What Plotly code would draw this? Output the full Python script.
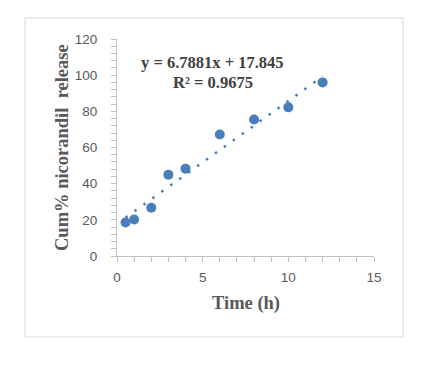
import plotly.graph_objects as go

time_h = [0.5, 1, 2, 3, 4, 6, 8, 10, 12]
cum_release = [18.5, 20.2, 26.7, 45.0, 48.3, 67.2, 75.5, 82.2, 96.0]
slope = 6.7881
intercept = 17.845
r2 = 0.9675

blue = "#4a7ebb"
grey_text = "#595959"
axis_grey = "#bfbfbf"

trend_x = [min(time_h), max(time_h)]
trend_y = [slope * v + intercept for v in trend_x]

fig = go.Figure()
fig.add_trace(go.Scatter(x=trend_x, y=trend_y, mode="lines",
                         line=dict(color=blue, width=2.5, dash="2.5px,8.5px"),
                         hoverinfo="skip", showlegend=False))
fig.add_trace(go.Scatter(x=time_h, y=cum_release, mode="markers",
                         marker=dict(color=blue, size=10),
                         showlegend=False))

OFF = 8  # page body margin
W, H = 427 - 2 * OFF, 382 - 2 * OFF
L = 117 - OFF
T = 39 - OFF
R = W - (374 - OFF)
B = H - (256 - OFF)
pw = W - L - R
ph = H - T - B

def px(xp):
    return (xp - OFF - L) / pw

def py(yp):
    return (H - B - (yp - OFF)) / ph

fig.update_layout(
    width=W, height=H,
    margin=dict(l=L, r=R, t=T, b=B),
    paper_bgcolor="white", plot_bgcolor="white",
    showlegend=False,
    xaxis=dict(range=[0, 15], dtick=5, tick0=0, showgrid=False, zeroline=False,
               showline=True, linecolor=axis_grey, linewidth=1,
               ticks="outside", ticklen=5, tickcolor=axis_grey,
               tickfont=dict(family="Liberation Sans", size=13.5, color=grey_text),
               ticklabelstandoff=4,
               minor=dict(dtick=1, ticks="outside", ticklen=5, tickcolor=axis_grey, showgrid=False)),
    yaxis=dict(range=[0, 120], dtick=20, tick0=0, showgrid=False, zeroline=False,
               showline=True, linecolor=axis_grey, linewidth=1,
               ticks="outside", ticklen=5, tickcolor=axis_grey,
               tickfont=dict(family="Liberation Sans", size=13.5, color=grey_text),
               ticklabelstandoff=11,
               minor=dict(dtick=4, ticks="outside", ticklen=5, tickcolor=axis_grey, showgrid=False)),
    shapes=[dict(type="rect", xref="paper", yref="paper",
                 x0=px(25), x1=px(403), y0=py(337), y1=py(18),
                 line=dict(color="#d9d9d9", width=1), layer="below")],
    annotations=[
        dict(text="<b>Time (h)</b>", xref="paper", yref="paper",
             x=px(245.5), y=py(303), xanchor="center", yanchor="middle", showarrow=False,
             font=dict(family="Liberation Serif", size=18.5, color=grey_text)),
        dict(text="<b>Cum% nicorandil  release</b>", xref="paper", yref="paper",
             x=px(62), y=py(148), xanchor="center", yanchor="middle", showarrow=False,
             textangle=-90,
             font=dict(family="Liberation Serif", size=18.5, color=grey_text)),
        dict(text=f"<b>y = {slope}x + {intercept}</b>", xref="paper", yref="paper",
             x=px(212), y=py(63), xanchor="center", yanchor="middle", showarrow=False,
             font=dict(family="Liberation Serif", size=16.5, color="#404040")),
        dict(text=f"<b>R² = {r2}</b>", xref="paper", yref="paper",
             x=px(213), y=py(82), xanchor="center", yanchor="middle", showarrow=False,
             font=dict(family="Liberation Serif", size=16.5, color="#404040")),
    ],
)

fig.write_html("out.html")
